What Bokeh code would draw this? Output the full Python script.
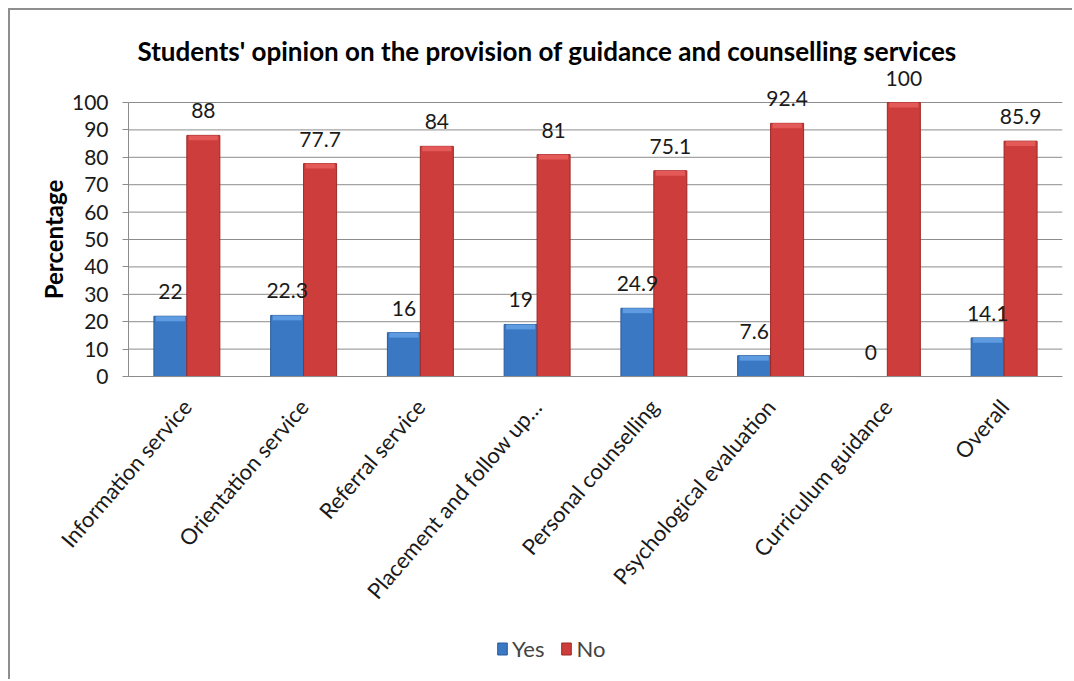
from bokeh.plotting import figure
from bokeh.models import (ColumnDataSource, Range1d, LabelSet, Label, Legend, LegendItem,
                          FixedTicker)
from bokeh.core.properties import value
from bokeh.transform import dodge
from bokeh.embed import file_html
from bokeh.resources import INLINE
import math

categories = ["Information service", "Orientation service", "Referral service",
              "Placement and follow up\u2026", "Personal counselling",
              "Psychological evaluation", "Curriculum guidance", "Overall"]
yes_values = [22, 22.3, 16, 19, 24.9, 7.6, 0, 14.1]
no_values = [88, 77.7, 84, 81, 75.1, 92.4, 100, 85.9]
yes_labels = ["22", "22.3", "16", "19", "24.9", "7.6", "0", "14.1"]
no_labels = ["88", "77.7", "84", "81", "75.1", "92.4", "100", "85.9"]
y_ticks = [0, 10, 20, 30, 40, 50, 60, 70, 80, 90, 100]

FONT = "Lato"
n = len(categories)
pos = list(range(n))
x_lo, x_hi = -0.5, n - 0.5
BEVEL = 1.8  # height of the lighter bevel strip on top of each bar, in axis units

src = ColumnDataSource(dict(
    x=pos, cat=categories, yes=yes_values, no=no_values, yl=yes_labels, nl=no_labels,
    yes_b=[max(v - BEVEL, 0) for v in yes_values],
    no_b=[max(v - BEVEL, 0) for v in no_values]))
grid_src = ColumnDataSource(dict(y=y_ticks))

p = figure(x_range=Range1d(-1.5107, x_hi), y_range=Range1d(-111.3, 113.14),
           width=1064, height=671, output_backend="svg", toolbar_location=None,
           title="Students' opinion on the provision of guidance and counselling services",
           min_border_left=0, min_border_right=12, min_border_top=56, min_border_bottom=0)
p.margin = (8, 0, 0, 8)
p.styles = {"border-left": "2px solid #8e8e8e", "border-top": "2px solid #8e8e8e"}

p.title.text_font = FONT
p.title.text_font_size = "26px"
p.title.text_font_style = "bold"
p.title.align = "left"
p.title.offset = 127
p.title.text_color = "#000000"
p.title.standoff = 0

p.outline_line_color = None
p.background_fill_color = "white"
p.border_fill_color = "white"
p.xgrid.grid_line_color = None
p.ygrid.grid_line_color = None

# horizontal gridlines across the plot area only
p.segment(x0=x_lo, x1=x_hi, y0="y", y1="y", source=grid_src,
          line_color="#8c8c8c", line_width=1)

yes_r = p.vbar(x=dodge("x", -0.141), top="yes", width=0.283, source=src,
               fill_color="#3a78c4", line_color="#2b5c9a", line_width=1)
no_r = p.vbar(x=dodge("x", 0.141), top="no", width=0.283, source=src,
              fill_color="#cc3d3b", line_color="#9c2a28", line_width=1)
# lighter bevel on the top of each bar
p.vbar(x=dodge("x", -0.141), top="yes", bottom="yes_b", width=0.25, source=src,
       fill_color="#5e9be0", line_color=None)
p.vbar(x=dodge("x", 0.141), top="no", bottom="no_b", width=0.25, source=src,
       fill_color="#e35a58", line_color=None)

for col, off in (("yl", -0.141), ("nl", 0.141)):
    ycol = "yes" if col == "yl" else "no"
    ls = LabelSet(x=dodge("x", off), y=ycol, text=col, source=src,
                  text_align="center", text_baseline="bottom", y_offset=17,
                  text_font=value(FONT), text_font_size="21px", text_color="#1a1a1a")
    p.add_layout(ls)

# value axis, drawn at the left edge of the plot area
p.yaxis.fixed_location = x_lo
p.yaxis.ticker = FixedTicker(ticks=y_ticks)
p.yaxis.bounds = (0, 100)
p.yaxis.major_label_standoff = 14
p.yaxis.major_label_text_font = FONT
p.yaxis.major_label_text_font_size = "21px"
p.yaxis.major_label_text_color = "#1a1a1a"
p.yaxis.axis_line_color = "#8c8c8c"
p.yaxis.major_tick_line_color = "#8c8c8c"
p.yaxis.major_tick_out = 6
p.yaxis.major_tick_in = 0
p.yaxis.minor_tick_line_color = None

p.add_layout(Label(x=x_lo, y=50, x_offset=-75, text="Percentage", angle=math.pi / 2,
                   text_align="center", text_baseline="middle",
                   text_font=FONT, text_font_size="24px", text_font_style="bold",
                   text_color="#000000"))

# category axis, drawn at y = 0
p.xaxis.fixed_location = 0
p.xaxis.bounds = (x_lo, x_hi)
p.xaxis.ticker = FixedTicker(ticks=pos)
p.xaxis.major_label_overrides = {i: c for i, c in zip(pos, categories)}
p.xaxis.major_label_orientation = 0.86
p.xaxis.major_label_text_font = FONT
p.xaxis.major_label_text_font_size = "22px"
p.xaxis.major_label_text_color = "#1a1a1a"
p.xaxis.axis_line_color = "#8c8c8c"
p.xaxis.major_tick_line_color = None
p.xaxis.minor_tick_line_color = None
p.xaxis.major_label_standoff = 20

legend = Legend(items=[LegendItem(label="Yes", renderers=[yes_r]),
                       LegendItem(label="No", renderers=[no_r])],
                orientation="horizontal", location=(486, 19),
                label_text_font=FONT, label_text_font_size="22px",
                glyph_width=12, glyph_height=15, spacing=16, label_standoff=4,
                border_line_color=None, background_fill_alpha=0, margin=0, padding=4)
p.add_layout(legend)

open("out.html", "w").write(file_html(p, INLINE))
